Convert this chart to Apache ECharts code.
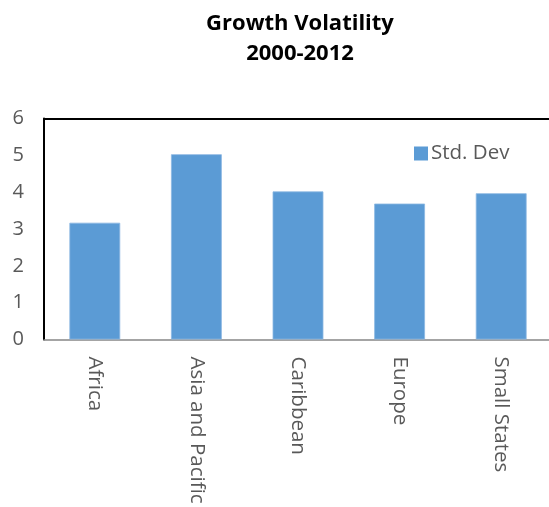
<!DOCTYPE html>
<html>
<head>
<meta charset="utf-8">
<script src="https://cdn.jsdelivr.net/npm/echarts@6/dist/echarts.min.js"></script>
<style>
  html, body { margin: 0; padding: 0; background: #fff; }
  #chart { width: 549px; height: 507px; }
</style>
</head>
<body>
<div id="chart"></div>
<script>
// Growth volatility (standard deviation of growth), 2000-2012
const regions = ['Africa', 'Asia and Pacific', 'Caribbean', 'Europe', 'Small States'];
const stdDev = [3.17, 5.03, 4.02, 3.69, 3.97];
const yTicks = [0, 1, 2, 3, 4, 5, 6];

const FONT = '"Open Sans", "Liberation Sans", sans-serif';
const chart = echarts.init(document.getElementById('chart'));

chart.setOption({
  animation: false,
  backgroundColor: '#ffffff',
  title: {
    text: 'Growth Volatility\n2000-2012',
    left: 295,
    textAlign: 'center',
    top: 4,
    textStyle: {
      fontFamily: FONT,
      fontSize: 22,
      fontWeight: 'bold',
      color: '#000000',
      lineHeight: 30
    }
  },
  legend: {
    data: ['Std. Dev'],
    left: 409,
    top: 138,
    itemWidth: 14,
    itemHeight: 14,
    itemGap: 6,
    icon: 'rect',
    itemStyle: { borderWidth: 0 },
    textStyle: { fontFamily: FONT, fontSize: 20.5, color: '#595959', padding: [0, 0, 0, -2] }
  },
  grid: {
    left: 44,
    top: 118.5,
    width: 508,
    height: 221,
    outerBoundsMode: 'none',
    containLabel: false
  },
  xAxis: [
    {
      type: 'category',
      data: regions,
      position: 'bottom',
      axisLine: { lineStyle: { color: '#868686', width: 1.5 } },
      axisTick: { show: false },
      axisLabel: {
        rotate: -90,
        margin: 17,
        interval: 0,
        fontFamily: FONT,
        fontSize: 20.5,
        color: '#595959'
      }
    },
    {
      type: 'category',
      data: regions,
      position: 'top',
      axisLine: { lineStyle: { color: '#000000', width: 2 } },
      axisTick: { show: false },
      axisLabel: { show: false }
    }
  ],
  yAxis: {
    type: 'value',
    min: yTicks[0],
    max: yTicks[yTicks.length - 1],
    interval: 1,
    axisLine: { show: true, lineStyle: { color: '#000000', width: 2 } },
    axisTick: { show: false },
    splitLine: { show: false },
    axisLabel: {
      margin: 20,
      fontFamily: FONT,
      fontSize: 20,
      color: '#595959'
    }
  },
  series: [
    {
      name: 'Std. Dev',
      type: 'bar',
      data: stdDev,
      barWidth: '50%',
      itemStyle: { color: '#5b9bd5', borderColor: '#8cb8e2', borderWidth: 0.8 }
    }
  ]
});
</script>
</body>
</html>
